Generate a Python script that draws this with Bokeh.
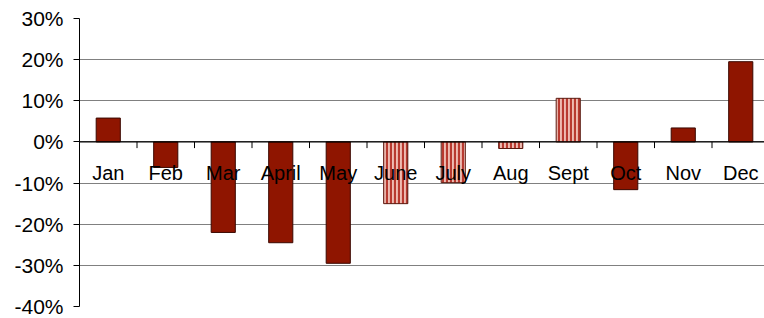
from bokeh.plotting import figure
from bokeh.models import Range1d, FixedTicker, ColumnDataSource
from bokeh.core.properties import value
from bokeh.embed import file_html
from bokeh.resources import INLINE

months = ["Jan", "Feb", "Mar", "April", "May", "June", "July", "Aug", "Sept", "Oct", "Nov", "Dec"]
returns = [5.8, -6.2, -22.0, -24.5, -29.5, -15.0, -9.9, -1.6, 10.6, -11.6, 3.4, 19.5]
hatched = [False, False, False, False, False, True, True, True, True, False, False, False]
y_ticks = [-40, -30, -20, -10, 0, 10, 20, 30]

FONT = "Liberation Sans"

p = figure(width=764, height=318, output_backend="svg", toolbar_location=None,
           x_range=Range1d(0, 11.913), y_range=Range1d(-40, 30),
           min_border_left=79, min_border_right=0, min_border_top=18, min_border_bottom=12)
p.outline_line_color = None
p.xaxis.visible = False
p.xgrid.visible = False

yax = p.yaxis[0]
yax.ticker = FixedTicker(ticks=y_ticks)
yax.major_label_overrides = {t: f"{t}%" for t in y_ticks}
yax.major_label_text_font = FONT
yax.major_label_text_font_size = "21px"
yax.major_label_text_color = "black"
yax.major_label_standoff = 10
yax.axis_line_color = "black"
yax.major_tick_in = 0
yax.major_tick_out = 6
yax.major_tick_line_color = "black"
yax.minor_tick_line_color = None
p.ygrid.grid_line_color = "#808080"
p.ygrid.grid_line_width = 1

xs = [i + 0.5 for i in range(len(months))]
solid = ColumnDataSource(dict(x=[x for x, h in zip(xs, hatched) if not h],
                              top=[r for r, h in zip(returns, hatched) if not h]))
striped = ColumnDataSource(dict(x=[x for x, h in zip(xs, hatched) if h],
                                top=[r for r, h in zip(returns, hatched) if h]))

p.vbar(x="x", top="top", bottom=0, width=0.42, source=solid,
       fill_color="#8f1500", line_color="#3a0800", line_width=1)
p.vbar(x="x", top="top", bottom=0, width=0.42, source=striped,
       fill_color="#eebcb2", hatch_pattern="|", hatch_color="#b83a30",
       hatch_scale=4, hatch_weight=2.2, line_color="#5a1a10", line_width=1)

# zero baseline and category tick marks
p.line(x=[0, 11.913], y=[0, 0], line_color="black", line_width=1.2)
bounds = list(range(1, len(months)))
p.segment(x0=bounds, y0=[0] * len(bounds), x1=bounds, y1=[-1.5] * len(bounds),
          line_color="black", line_width=1)

p.text(x=xs, y=[0] * len(xs), text=months, text_align="center", text_baseline="middle",
       y_offset=31, text_font=value(FONT), text_font_size="20px", text_color="black")

open("out.html", "w").write(file_html(p, INLINE))
